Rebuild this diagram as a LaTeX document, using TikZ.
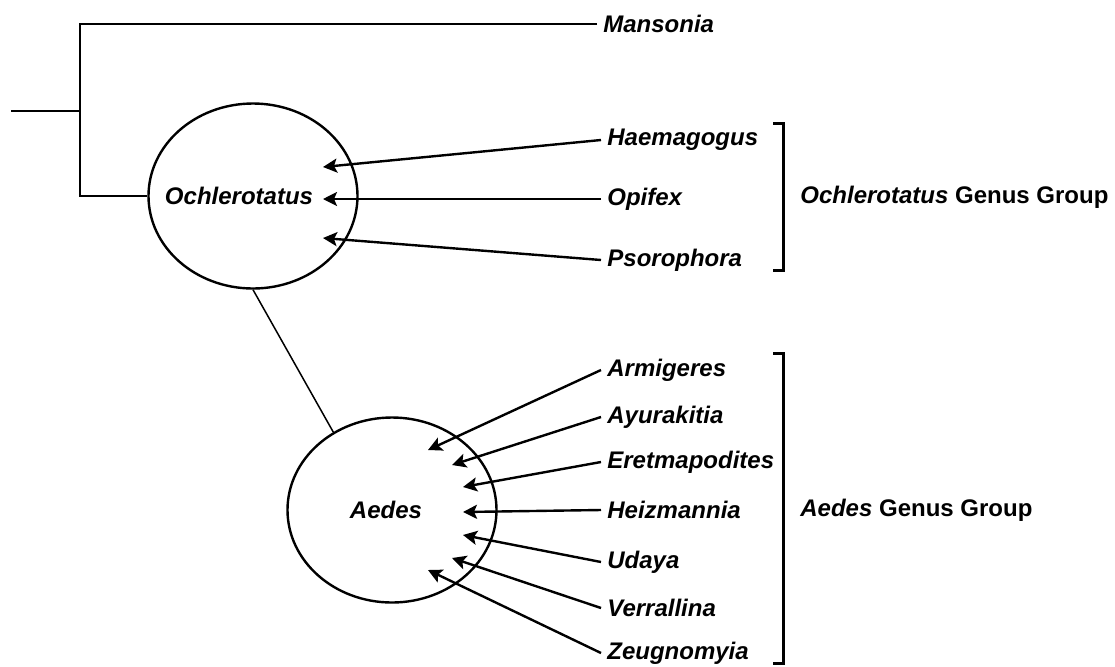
\documentclass[tikz,border=0pt]{standalone}
\usepackage{fontspec}
\setmainfont{Liberation Sans}
\usetikzlibrary{arrows.meta,shapes.geometric}

\begin{document}
\begin{tikzpicture}[x=0.5pt,y=-0.5pt,
	font=\fontsize{12}{14}\selectfont,
	taxon/.style={font=\fontsize{12}{14}\selectfont\bfseries\itshape, anchor=west, inner sep=3pt},
	genus/.style={draw, ellipse, line width=1.2pt, inner sep=0pt,
		minimum width=104.5pt, minimum height=92.5pt},
	genuslabel/.style={font=\fontsize{12}{14}\selectfont\bfseries\itshape, inner sep=0pt},
	tree/.style={line width=0.75pt},
	feed/.style={line width=1.2pt, -{Stealth[length=7pt,width=7pt,inset=1.5pt]}},
	grp/.style={line width=1.5pt},
	grplabel/.style={font=\fontsize{12}{14}\selectfont\bfseries, anchor=west, inner sep=3pt}]
	\useasboundingbox (0,0) rectangle (1115,666);

	% genera
	\node[genus, label={[genuslabel,xshift=-7pt]center:Ochlerotatus}] (ochl) at (253,196) {};
	\node[genus, label={[genuslabel,xshift=-3pt]center:Aedes}] (aedes) at (392,510) {};

	% tree
	\coordinate (root) at (11,111);
	\coordinate (fork) at (80,111);
	\node[taxon] (mans) at (597,24) {Mansonia};
	\draw[tree] (root) -- (fork);
	\draw[tree] (mans.west) -| (fork) |- (ochl.west);
	\draw[tree] (ochl.south) -- (aedes.127);

	% Ochlerotatus group
	\node[taxon] (haem) at (601,140) {Haemagogus};
	\node[taxon] (opif) at (601,199) {Opifex};
	\node[taxon] (psor) at (601,260) {Psorophora};
	\coordinate (haemtip) at (323,167);
	\coordinate (opiftip) at (323,199);
	\coordinate (psortip) at (323,238);
	\draw[feed] (haem.west) -- (haemtip);
	\draw[feed] (opif.west) -- (opiftip);
	\draw[feed] (psor.west) -- (psortip);

	% Aedes group
	\node[taxon] (armi) at (601,370) {Armigeres};
	\node[taxon] (ayur) at (601,417) {Ayurakitia};
	\node[taxon] (eret) at (601,462) {Eretmapodites};
	\node[taxon] (heiz) at (601,510) {Heizmannia};
	\node[taxon] (uday) at (601,562) {Udaya};
	\node[taxon] (verr) at (601,608) {Verrallina};
	\node[taxon] (zeug) at (601,653) {Zeugnomyia};
	\coordinate (armitip) at (428,450);
	\coordinate (ayurtip) at (452,465);
	\coordinate (erettip) at (463,487);
	\coordinate (heiztip) at (463,512);
	\coordinate (udaytip) at (463,535);
	\coordinate (verrtip) at (452,558);
	\coordinate (zeugtip) at (428,570);
	\draw[feed] (armi.west) -- (armitip);
	\draw[feed] (ayur.west) -- (ayurtip);
	\draw[feed] (eret.west) -- (erettip);
	\draw[feed] (heiz.west) -- (heiztip);
	\draw[feed] (uday.west) -- (udaytip);
	\draw[feed] (verr.west) -- (verrtip);
	\draw[feed] (zeug.west) -- (zeugtip);

	% brackets
	\draw[grp] (773,123) -| (783,270) -- (773,270);
	\draw[grp] (773,353) -| (783,663) -- (773,663);
	\node[grplabel] (ochlgrp) at (794,197) {\textit{Ochlerotatus} Genus Group};
	\node[grplabel] (aedesgrp) at (794,510) {\textit{Aedes} Genus Group};
\end{tikzpicture}
\end{document}
